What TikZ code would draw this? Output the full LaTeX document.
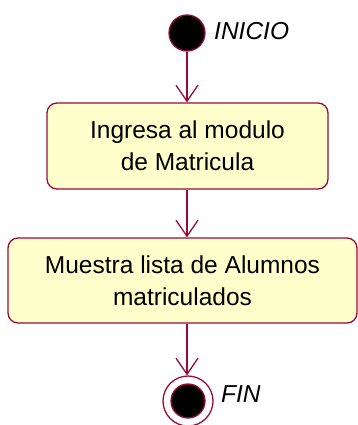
\documentclass[tikz,border=0pt]{standalone}
\usepackage{fontspec}
\setmainfont{Liberation Sans}
\usetikzlibrary{arrows.meta}
\definecolor{umlred}{RGB}{153,10,60}
\definecolor{umlfill}{RGB}{255,255,204}
\tikzset{
    actividad/.style={draw=umlred, fill=umlfill, line width=1.3pt, rounded corners=10pt,
        align=center, inner sep=0pt, font=\fontsize{24.5}{32}\selectfont},
    inicial/.style={circle, draw=umlred, fill=black, line width=1.3pt, minimum size=36pt, inner sep=0pt},
    final/.style={circle, draw=umlred, fill=white, line width=1.3pt, minimum size=50pt, inner sep=0pt},
    flujo/.style={draw=umlred, line width=1.3pt, -{Straight Barb[length=16pt,width=22pt]}},
    etiqueta/.style={font=\fontsize{24.5}{30}\selectfont\itshape, inner sep=0pt}
}
\begin{document}
\begin{tikzpicture}[x=1pt, y=-1pt]
    \useasboundingbox (0,0) rectangle (358,425);
    \node[inicial] (inicio) at (187,33) {};
    \node[etiqueta, anchor=base west] (lblinicio) at (214,40) {INICIO};
    \node[actividad, minimum width=281pt, minimum height=86pt] (ingresa) at (187.5,146)
        {Ingresa al modulo\\de Matricula};
    \node[actividad, minimum width=349pt, minimum height=85pt] (muestra) at (182.5,280.5)
        {Muestra lista de Alumnos\\matriculados};
    \node[final] (fin) at (188,401) {};
    \node[inicial, minimum size=34pt] (fincentro) at (fin) {};
    \node[etiqueta, anchor=base west] (lblfin) at (221,402) {FIN};
    % flujos
    \draw[flujo] (inicio) -- (inicio |- ingresa.north);
    \draw[flujo] (inicio |- ingresa.south) -- (inicio |- muestra.north);
    \draw[flujo] (inicio |- muestra.south) -- (inicio |- fin.north);
\end{tikzpicture}
\end{document}
